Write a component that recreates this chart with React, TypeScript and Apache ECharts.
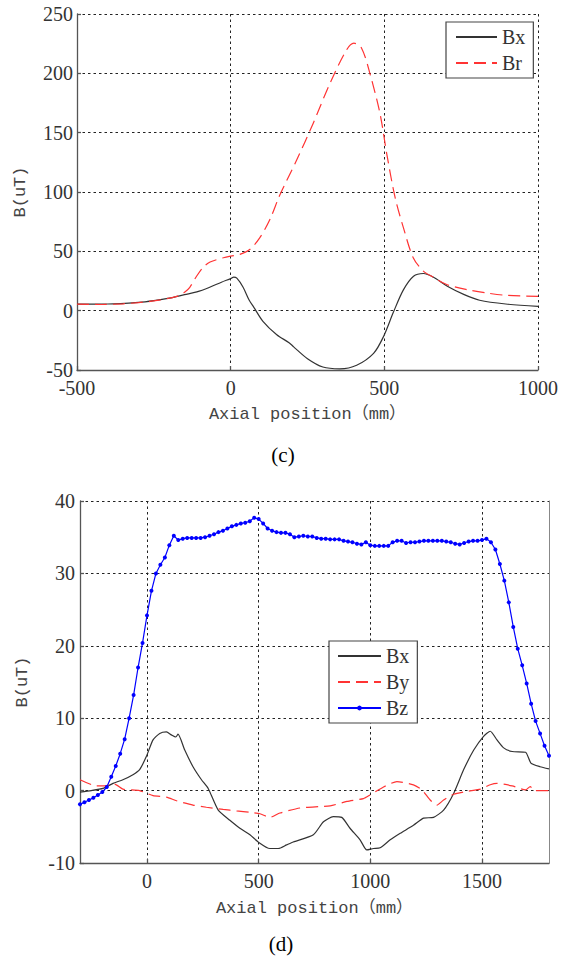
import React, { useEffect, useRef } from "react";
import * as echarts from "echarts";

// ---------- Data ----------
// Chart (c): axial position (mm) vs B (uT)
const topBx: [number, number][] = [
  [-500, 5.5], [-400, 5.6], [-300, 7.0], [-250, 8.5], [-200, 10.6], [-150, 13.5],
  [-110, 15.8], [-70, 19.5], [-30, 24.0], [0, 27.0], [10, 28.2], [20, 27.4],
  [40, 20.0], [60, 9.0], [75, 3.0], [105, -9.0], [150, -20.3], [190, -27.0],
  [205, -30.5], [250, -40.5], [300, -47.5], [355, -49.0], [410, -46.0], [465, -36.0],
  [497, -22.0], [530, -1.0], [562, 17.5], [595, 29.0], [627, 31.3], [660, 28.2],
  [705, 20.6], [760, 13.5], [810, 8.8], [895, 5.6], [1000, 3.6],
];
const topBr: [number, number][] = [
  [-500, 5.5], [-420, 5.2], [-350, 5.8], [-300, 6.8], [-250, 8.2], [-200, 10.5],
  [-170, 12.5], [-150, 15.5], [-133, 19.7], [-111, 29.0], [-89, 36.7], [-67, 41.0],
  [-24, 44.6], [0, 46.0], [30, 47.4], [63, 51.7], [95, 61.5], [128, 77.0],
  [160, 97.5], [214, 126.5], [268, 157.6], [323, 191.5], [377, 219.7], [401, 225.4],
  [426, 221.2], [453, 200.0], [486, 166.0], [508, 132.0], [535, 95.4], [562, 70.0],
  [594, 44.6], [627, 33.3], [659, 28.2], [703, 22.0], [768, 17.8], [833, 14.9],
  [893, 13.0], [1000, 12.0],
];

// Chart (d)
const botBx: [number, number][] = [
  [-300, -0.2], [-250, 0.0], [-197, 0.3], [-152, 1.0], [-108, 1.5], [-63, 2.2],
  [-33, 2.9], [-3, 4.7], [27, 7.0], [57, 7.9], [87, 8.1], [109, 7.7], [129, 7.4],
  [139, 7.8], [169, 5.6], [206, 3.3], [244, 1.5], [274, 0.3], [319, -2.7],
  [371, -4.1], [416, -5.2], [461, -6.1], [498, -7.1], [550, -8.0], [588, -8.0],
  [625, -7.5], [655, -7.1], [745, -6.1], [790, -4.3], [834, -3.6], [872, -3.7],
  [909, -5.2], [954, -6.8], [984, -8.2], [1014, -8.0], [1044, -7.9], [1089, -6.8],
  [1134, -5.9], [1193, -4.8], [1238, -3.8], [1283, -3.7], [1328, -2.7], [1373, -0.4],
  [1418, 2.9], [1463, 5.6], [1507, 7.5], [1537, 8.2], [1567, 7.0], [1597, 5.9],
  [1635, 5.4], [1695, 5.3], [1719, 3.8], [1760, 3.3], [1800, 3.0],
];
const botBy: [number, number][] = [
  [-300, 1.5], [-227, 0.65], [-190, 0.65], [-145, 0.9], [-108, 0.2], [-33, 0.0],
  [27, -0.7], [87, -0.9], [132, -1.4], [206, -2.0], [266, -2.3], [341, -2.6],
  [401, -2.8], [461, -3.0], [506, -3.2], [550, -3.7], [595, -3.1], [685, -2.4],
  [820, -2.1], [895, -1.5], [969, -1.1], [999, -0.6], [1059, 0.5], [1119, 1.25],
  [1193, 0.8], [1231, 0.1], [1268, -1.3], [1298, -2.0], [1328, -1.3], [1373, -0.5],
  [1433, -0.1], [1493, 0.2], [1537, 0.8], [1567, 1.0], [1635, 0.65], [1695, 0.1],
  [1716, 0.55], [1735, 0.0], [1800, 0.0],
];
const botBz: [number, number][] = [
  [-300, -1.9], [-280, -1.6], [-260, -1.3], [-240, -1.0], [-220, -0.6], [-200, -0.2],
  [-180, 0.5], [-160, 1.9], [-140, 3.4], [-120, 5.1], [-100, 7.1], [-80, 10.0],
  [-60, 13.2], [-40, 17.0], [-20, 20.4], [0, 24.2], [20, 27.6], [40, 30.0],
  [60, 31.2], [80, 32.2], [100, 33.9], [120, 35.2], [140, 34.6], [160, 34.8],
  [180, 34.9], [200, 34.9], [220, 34.9], [240, 34.9], [260, 35.0], [280, 35.2],
  [300, 35.4], [320, 35.7], [340, 35.9], [360, 36.2], [380, 36.5], [400, 36.7],
  [420, 36.9], [440, 37.0], [460, 37.2], [480, 37.7], [500, 37.5], [520, 36.9],
  [540, 36.2], [560, 35.9], [580, 35.7], [600, 35.6], [620, 35.6], [640, 35.4],
  [660, 35.0], [680, 35.1], [700, 35.2], [720, 35.1], [740, 35.1], [760, 34.9],
  [780, 34.8], [800, 34.8], [820, 34.7], [840, 34.7], [860, 34.7], [880, 34.5],
  [900, 34.4], [920, 34.3], [940, 34.1], [960, 34.0], [980, 34.3], [1000, 33.9],
  [1020, 33.8], [1040, 33.8], [1060, 33.8], [1080, 33.8], [1100, 34.3], [1120, 34.5],
  [1140, 34.5], [1160, 34.2], [1180, 34.3], [1200, 34.3], [1220, 34.4], [1240, 34.5],
  [1260, 34.5], [1280, 34.5], [1300, 34.5], [1320, 34.5], [1340, 34.4], [1360, 34.3],
  [1380, 34.1], [1400, 34.0], [1420, 34.2], [1440, 34.4], [1460, 34.5], [1480, 34.5],
  [1500, 34.6], [1520, 34.8], [1540, 34.3], [1560, 33.3], [1580, 31.3], [1600, 29.0],
  [1620, 26.0], [1640, 22.6], [1660, 19.6], [1680, 17.3], [1700, 14.8], [1720, 12.0],
  [1740, 9.6], [1760, 7.9], [1780, 6.2], [1800, 4.8],
];

const botXTicks = [0, 500, 1000, 1500];
const xTitle = "Axial position（mm）";
const yTitle = "B(uT)";

// ---------- Styles ----------
const plain = (v: number) => String(v);
const tickFont = { fontFamily: "Liberation Serif, serif", fontSize: 20, color: "#333", formatter: plain };
const titleFont = { fontFamily: "Liberation Mono, Noto Sans CJK SC, monospace", fontSize: 17, color: "#444" };
const axisLineStyle = { color: "#555", width: 1.3 };
const gridLine = { show: true, lineStyle: { color: "#222", width: 1, type: [2.5, 3] as any } };
const BLACK = "#333";
const RED = "#ff3333";
const BLUE = "#0000ff";
const legendText = { fontFamily: "Liberation Serif, serif", fontSize: 20, color: "#333" };
const noSymbol = { opacity: 0 };

export default function App() {
  const ref = useRef<HTMLDivElement>(null);
  useEffect(() => {
    if (!ref.current) return;
    const chart = echarts.init(ref.current, undefined, { renderer: "svg" });
    const option: any = {
      animation: false,
      backgroundColor: "#fff",
      grid: [
        { left: 77, top: 14, right: 24, height: 356 },
        { left: 80, top: 501, right: 13, height: 362 },
      ],
      xAxis: [
        {
          type: "value", gridIndex: 0, min: -500, max: 1000, interval: 500,
          axisLine: { show: true, onZero: false, lineStyle: axisLineStyle },
          axisTick: { show: true, inside: true, length: 4, lineStyle: axisLineStyle },
          axisLabel: { ...tickFont, margin: 8, showMinLabel: true, showMaxLabel: true },
          splitLine: gridLine,
          name: xTitle, nameLocation: "middle", nameGap: 36, nameTextStyle: titleFont,
        },
        {
          type: "value", gridIndex: 1, min: -300, max: 1800,
          axisLine: { show: true, onZero: false, lineStyle: axisLineStyle },
          axisTick: { show: true, inside: true, length: 4, lineStyle: axisLineStyle, customValues: botXTicks },
          axisLabel: { ...tickFont, margin: 8, customValues: botXTicks },
          splitLine: gridLine,
          name: xTitle, nameLocation: "middle", nameGap: 37, nameTextStyle: titleFont,
        },
      ],
      yAxis: [
        {
          type: "value", gridIndex: 0, min: -50, max: 250, interval: 50,
          axisLine: { show: true, onZero: false, lineStyle: axisLineStyle },
          axisTick: { show: true, inside: true, length: 4, lineStyle: axisLineStyle },
          axisLabel: { ...tickFont, margin: 4 },
          splitLine: gridLine,
          name: yTitle, nameLocation: "middle", nameGap: 48, nameTextStyle: titleFont,
        },
        {
          type: "value", gridIndex: 1, min: -10, max: 40, interval: 10,
          axisLine: { show: true, onZero: false, lineStyle: axisLineStyle },
          axisTick: { show: true, inside: true, length: 4, lineStyle: axisLineStyle },
          axisLabel: { ...tickFont, margin: 5 },
          splitLine: gridLine,
          name: yTitle, nameLocation: "middle", nameGap: 49, nameTextStyle: titleFont,
        },
        {
          type: "value", gridIndex: 1, min: -10, max: 40, interval: 10, position: "right",
          axisLine: { show: true, onZero: false, lineStyle: { color: "#888", width: 1 } },
          axisTick: { show: false }, axisLabel: { show: false }, splitLine: { show: false },
        },
      ],
      legend: [
        {
          data: [
            { name: "Bx", itemStyle: noSymbol },
            { name: "Br", itemStyle: noSymbol },
          ],
          orient: "vertical", left: 446, top: 22,
          itemWidth: 41, itemHeight: 6, itemGap: 6, padding: [5, 8, 5, 9],
          borderColor: "#444", borderWidth: 1.2, backgroundColor: "#fff",
          textStyle: legendText, selectedMode: false,
        },
        {
          data: [
            { name: "Bx", itemStyle: noSymbol },
            { name: "By", itemStyle: noSymbol },
            { name: "Bz" },
          ],
          orient: "vertical", left: 329, top: 641,
          itemWidth: 43, itemHeight: 6, itemGap: 6, padding: [5, 8, 5, 8],
          borderColor: "#444", borderWidth: 1.2, backgroundColor: "#fff",
          textStyle: legendText, selectedMode: false,
        },
      ],
      series: [
        {
          name: "Bx", type: "line", xAxisIndex: 0, yAxisIndex: 0, data: topBx,
          symbol: "none", smooth: 0.3, lineStyle: { color: BLACK, width: 1.2 }, itemStyle: { color: BLACK },
        },
        {
          name: "Br", type: "line", xAxisIndex: 0, yAxisIndex: 0, data: topBr,
          symbol: "none", smooth: 0.3, lineStyle: { color: RED, width: 1.2, type: [12, 6] }, itemStyle: { color: RED },
        },
        {
          name: "Bx", type: "line", xAxisIndex: 1, yAxisIndex: 1, data: botBx,
          symbol: "none", smooth: 0.2, lineStyle: { color: BLACK, width: 1.2 }, itemStyle: { color: BLACK },
        },
        {
          name: "By", type: "line", xAxisIndex: 1, yAxisIndex: 1, data: botBy,
          symbol: "none", smooth: 0.2, lineStyle: { color: RED, width: 1.2, type: [12, 6] }, itemStyle: { color: RED },
        },
        {
          name: "Bz", type: "line", xAxisIndex: 1, yAxisIndex: 1, data: botBz, z: 5,
          symbol: "circle", symbolSize: 4, showSymbol: true,
          lineStyle: { color: BLUE, width: 1.2 }, itemStyle: { color: BLUE },
        },
      ],
      graphic: [
        {
          type: "text", x: 283, y: 455,
          style: { text: "(c)", fontFamily: "Liberation Serif, serif", fontSize: 21, fill: "#000", textAlign: "center", textVerticalAlign: "middle" },
        },
        {
          type: "text", x: 281, y: 944,
          style: { text: "(d)", fontFamily: "Liberation Serif, serif", fontSize: 21, fill: "#000", textAlign: "center", textVerticalAlign: "middle" },
        },
      ],
    };
    chart.setOption(option);
    return () => chart.dispose();
  }, []);
  return (
    <div
      ref={ref}
      style={{ position: "absolute", left: 0, top: 0, width: 562, height: 959, background: "#fff" }}
    />
  );
}
